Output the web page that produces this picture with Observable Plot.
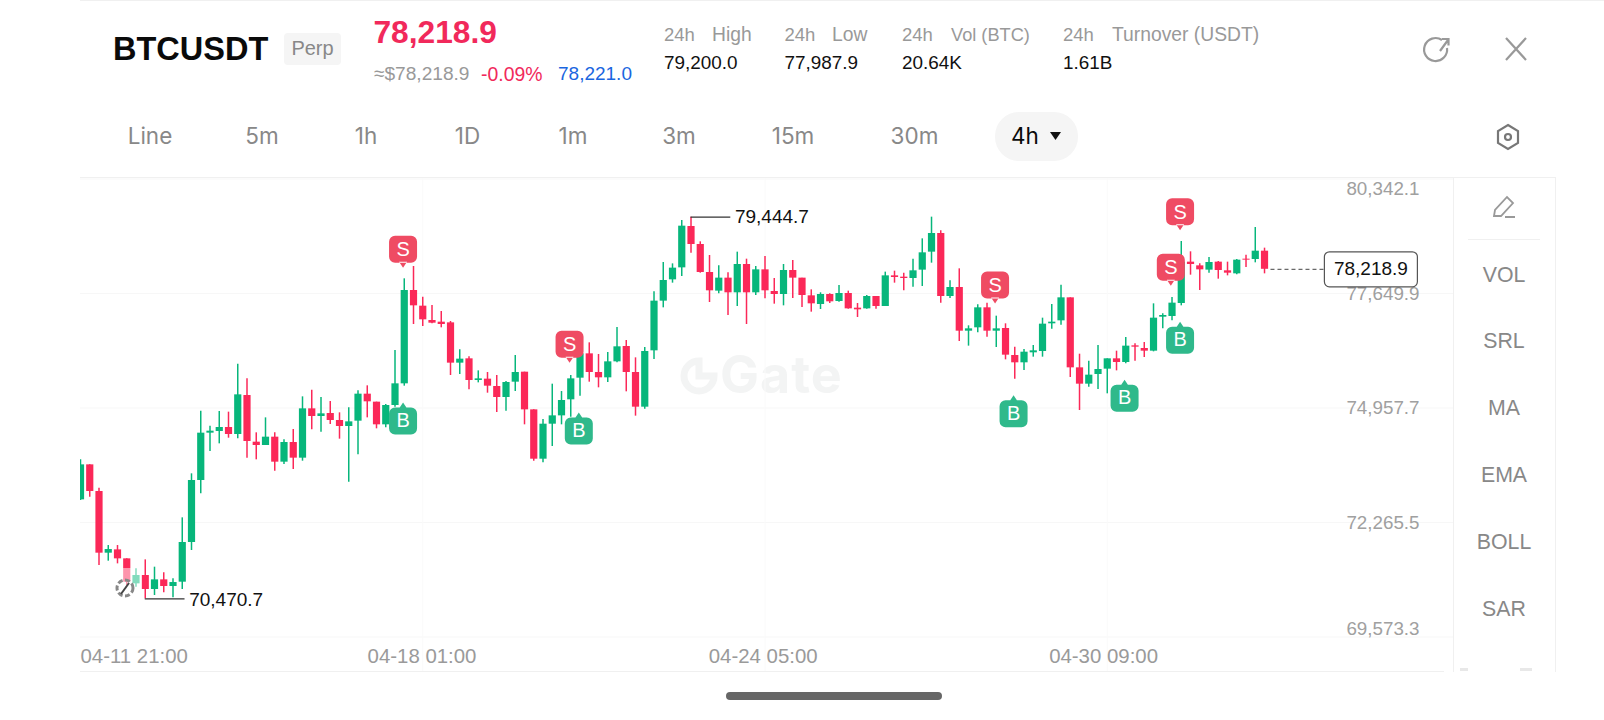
<!DOCTYPE html>
<html>
<head>
<meta charset="utf-8">
<script src="https://cdn.jsdelivr.net/npm/d3@7"></script>
<script src="https://cdn.jsdelivr.net/npm/@observablehq/plot@0.6"></script>
<style>
html,body{margin:0;padding:0;background:#fff;width:1604px;height:720px;overflow:hidden;font-family:"Liberation Sans",Arial,sans-serif}
#stage{position:relative;width:1604px;height:720px;overflow:hidden}
#stage>svg{position:absolute;left:0;top:0;background:transparent}
.t{position:absolute;line-height:0;white-space:pre}
.b{position:absolute}
</style>
</head>
<body>
<div id="stage"></div>
<script>
const opens=[72798,73621,72994,71544,71622,71411,70823,71019,70690,70917,70760,70862,71795,73253,74366,74405,74499,74334,75251,74154,74076,74272,73684,74146,73778,74938,74758,74828,74664,74523,74648,75283,75095,74562,75016,75526,77720,77352,77015,76976,76960,76012,76114,75604,75636,75463,75204,75565,75800,74914,73754,74577,74773,75150,75659,76231,75792,75667,76043,76404,75792,74977,76302,77470,77971,78253,79225,78802,78144,77705,78011,77666,78332,77666,78206,77697,77626,78191,78011,77595,77391,77626,77462,77650,77305,77289,77579,77344,78065,78034,78003,78199,78622,79061,77579,77791,76764,76843,77313,76764,76827,76192,76020,76255,76286,76937,77007,77548,75902,75518,75745,75871,76114,76027,76419,76357,76294,77093,77109,77415,78387,78300,78199,78387,78183,78112,78457,78449,78645];
const closes=[73621,72994,71544,71630,71411,70862,71019,70690,70917,70760,70854,71795,73253,74366,74413,74499,74334,75267,74170,74076,74272,73684,74146,73778,74938,74758,74820,74664,74523,74632,75283,75103,74562,75016,75526,77720,77360,77031,76952,76921,76012,76106,75604,75643,75471,75204,75557,75792,74914,73754,74577,74773,75134,75643,76231,75792,75667,76043,76396,75792,74977,76286,77470,77956,78246,79233,78802,78144,77713,78011,77666,78332,77666,78206,77713,77626,78191,78011,77603,77407,77626,77454,77650,77289,77266,77579,77344,78065,78026,78003,78183,78606,79061,77579,77791,76764,76819,77313,76764,76819,76200,76020,76270,76302,76929,76976,77548,75902,75518,75730,75863,76114,76027,76412,76388,76294,77070,77133,77423,78387,78332,78206,78379,78191,78128,78434,78434,78645,78218.9];
const highs=[73739,73621,73072,71724,71724,71411,71176,71387,71215,71082,70941,72375,73410,74883,74530,74875,74860,75988,75643,74374,74726,74374,74209,74452,75220,75377,75204,75110,74844,74961,75361,75479,75095,75040,76310,77995,78285,77564,77368,77227,76992,76325,76161,75831,75792,75722,75581,76192,75800,74914,74687,75518,75345,75722,76349,76490,76216,76263,76850,76545,76137,76380,77689,78379,78347,79366,79444.7,78865,78543,78300,78136,78622,78457,78285,78520,78003,78332,78426,78011,77736,77666,77642,77838,77705,77415,77603,77579,78152,78175,78128,78457,78935,79445,79123,77948,78230,76890,77383,77423,77117,76937,76388,76333,76427,77070,77391,77846,77548,76223,76059,76427,76114,76294,76615,76466,76498,77407,77172,77556,78873,78630,78347,78496,78402,78387,78449,78551,79202,78716];
const lows=[72783,72861,71254,71356,71293,70784,70745,70470.7,70549,70611,70494,70690,71607,72939,73935,74115,74248,74232,73778,73739,74076,73472,73629,73511,73707,74444,74389,74570,74225,73214,73856,74726,74468,74491,74977,75471,76921,76874,76937,76843,75722,75745,75385,75549,75306,74852,74883,75345,74562,73707,73668,74052,74562,74742,75236,75565,75432,75557,76020,75338,74766,74930,76098,77313,77893,78050,78598,78128,77438,77642,77133,77344,76921,77603,77525,77399,77360,77532,77321,77211,77274,77415,77446,77281,77086,77281,77281,77344,77893,77713,77799,77815,78363,77423,77532,76521,76412,76725,76623,76380,76090,75636,75839,76153,76153,76811,76905,75675,74899,75447,75393,75291,75831,75996,76059,76145,76278,76819,77007,77360,78081,77720,78128,77987,78065,78089,78261,78371,78112];

const priceTicks=[80342.1,77649.9,74957.7,72265.5,69573.3];
const timeTickIndex=[0,37,74,111];
const timeLabelIndex=[0,36.92,73.8,110.6];
const timeTickLabels=["04-11 21:00","04-18 01:00","04-24 05:00","04-30 09:00"];
const sellIndex=[35,53,99,119,118];
const sellPrice=[78680,76443,77838,79562,78253];
const buyIndex=[35,54,101,113,119];
const buyPrice=[74664,74428,74836,75197,76560];
const highestPrice=79444.7, highestIndex=66, lowestPrice=70470.7, lowestIndex=7, lastPrice=78218.9, lastIndex=128;

const GREEN="#07b67b", RED="#fb2858", FONT="'Liberation Sans',Arial,sans-serif";
const candles=opens.map((o,i)=>({i,open:o,close:closes[i],high:highs[i],low:lows[i],dir:closes[i]>=o?"up":"down"}));
const fmt=d3.format(",.1f");

function rr(c,x,y,w,h,r){c.moveTo(x+r,y);c.lineTo(x+w-r,y);c.arcTo(x+w,y,x+w,y+r,r);c.lineTo(x+w,y+h-r);c.arcTo(x+w,y+h,x+w-r,y+h,r);c.lineTo(x+r,y+h);c.arcTo(x,y+h,x,y+h-r,r);c.lineTo(x,y+r);c.arcTo(x,y,x+r,y,r);c.closePath();}
const sellSym={draw(c){rr(c,-14,-14,28,27,6);c.moveTo(-4,12);c.lineTo(0,18);c.lineTo(4,12);c.closePath();}};
const buySym={draw(c){rr(c,-14,-13,28,27,6);c.moveTo(-4,-12);c.lineTo(0,-18);c.lineTo(4,-12);c.closePath();}};
const lastSym={draw(c){rr(c,-46.5,-17.5,93,35,5);}};
const sells=sellIndex.map((i,k)=>({i,p:sellPrice[k]}));
const buys=buyIndex.map((i,k)=>({i,p:buyPrice[k]}));
const ticks=timeLabelIndex.map((i,k)=>({i,label:timeTickLabels[k]}));

const chart=Plot.plot({
  width:1604,height:720,
  marginLeft:80,marginRight:151,marginTop:178,marginBottom:49,
  style:{background:"transparent",fontFamily:FONT},
  x:{domain:[0,148.43],axis:null},
  y:{domain:[69573.3,80342.1],range:[636.5,178.5],axis:null},
  color:{domain:["up","down"],range:[GREEN,RED]},
  marks:[
    Plot.ruleY(priceTicks,{stroke:"#f7f7f7",strokeWidth:1,x1:0,x2:148.43}),
    Plot.ruleX(timeTickIndex.slice(1),{stroke:"#fafafa",strokeWidth:1}),
    Plot.ruleX(candles,{x:"i",y1:"low",y2:"high",stroke:"dir",strokeWidth:1.5,clip:"frame"}),
    Plot.ruleX(candles,{x:"i",y1:"open",y2:"close",stroke:"dir",strokeWidth:7.2,clip:"frame"}),
    Plot.text(ticks.slice(0,1),{x:"i",text:"label",frameAnchor:"bottom",dy:-9,fontSize:20.4,fill:"#9a9a9a",textAnchor:"start"}),
    Plot.text(ticks.slice(1),{x:"i",text:"label",frameAnchor:"bottom",dy:-9,fontSize:20.4,fill:"#9a9a9a"}),
    Plot.text(priceTicks.slice(1,4),{y:d=>d,text:fmt,frameAnchor:"right",dx:-34,fontSize:18.8,fill:"#a0a0a0",textAnchor:"end"}),
    Plot.text(priceTicks.slice(0,1),{y:d=>d,text:fmt,frameAnchor:"right",dx:-34,dy:10,fontSize:18.8,fill:"#a0a0a0",textAnchor:"end"}),
    Plot.text(priceTicks.slice(4),{y:d=>d,text:fmt,frameAnchor:"right",dx:-34,dy:-8,fontSize:18.8,fill:"#a0a0a0",textAnchor:"end"}),
    Plot.ruleY([highestPrice],{x1:highestIndex,x2:highestIndex+4.3,stroke:"#333",strokeWidth:1.2}),
    Plot.text([highestPrice],{x:highestIndex+4.75,y:d=>d,text:fmt,textAnchor:"start",fontSize:19,fill:"#111"}),
    Plot.ruleY([lowestPrice],{x1:lowestIndex,x2:lowestIndex+4.3,stroke:"#333",strokeWidth:1.2}),
    Plot.text([lowestPrice],{x:lowestIndex+4.75,y:d=>d,dy:1,text:fmt,textAnchor:"start",fontSize:19,fill:"#111"}),
    Plot.ruleY([lastPrice],{x1:lastIndex+0.7,x2:135,stroke:"#444",strokeWidth:1,strokeDasharray:"4,3"}),
    Plot.dot([lastPrice],{x:139.5,y:d=>d,symbol:lastSym,r:5,fill:"#fff",stroke:"#555",strokeWidth:1.2}),
    Plot.text([lastPrice],{x:139.5,y:d=>d,text:fmt,fontSize:19,fill:"#111"}),
    Plot.dot(buys,{x:"i",y:"p",dx:-1.2,symbol:buySym,r:5,fill:"#2fb98b",stroke:"none"}),
    Plot.text(buys,{x:"i",y:"p",dx:-1.2,text:()=>"B",fontSize:20,fill:"#fff"}),
    Plot.dot(sells,{x:"i",y:"p",dx:-1.2,symbol:sellSym,r:5,fill:"#ef4b63",stroke:"none"}),
    Plot.text(sells,{x:"i",y:"p",dx:-1.2,text:()=>"S",fontSize:20,fill:"#fff"})
  ]
});

const stage=document.getElementById("stage");
function box(x,y,w,h,bg,extra){const d=document.createElement("div");d.className="b";d.style.cssText+=`left:${x}px;top:${y}px;width:${w}px;height:${h}px;background:${bg};${extra||""}`;stage.appendChild(d);return d;}
function t(s,x,base,size,color,weight,anchor,family){const d=document.createElement("div");d.className="t";d.textContent=s;
  const tx=anchor==="middle"?"translateX(-50%)":"";
  const shift=family==="Inter"?0.3636:0.3465;
  d.style.cssText+=`left:${x}px;top:${base-shift*size}px;font-size:${size}px;color:${color};font-weight:${weight||400};transform:${tx};${family?`font-family:${family};`:""}`;stage.appendChild(d);return d;}

// frame lines and watermark under the chart
box(80,0,1524,1,"#f0f0f0");
box(80,177,1476,1,"#f0f0f0");
box(80,671,1364,1,"#f0f0f0");
box(1453,178,1,494,"#f0f0f0");
box(1555,178,1,494,"#f0f0f0");
box(1468,239,72,1,"#f0f0f0");
box(1460,668,8,3,"#e8e8e8");
box(1520,668,12,3,"#e8e8e8");
const wm=document.createElement("div");wm.className="b";wm.style.cssText+="left:678px;top:334px;width:200px;height:86px;";
wm.innerHTML='<svg width="200" height="86" style="position:absolute;left:0;top:0"><path d="M21 27a15 15 0 1 0 15 15H21z" fill="none" stroke="#f3f4f4" stroke-width="7"/><text x="42" y="59" font-family="Inter" font-weight="700" font-size="52" letter-spacing="1" fill="#f3f4f4">Gate</text></svg>';
stage.appendChild(wm);
stage.appendChild(chart);

// loader overlay
const ov=box(105,568,37,37,"rgba(255,255,255,.5)");
ov.innerHTML='<svg width="37" height="37" style="position:absolute;left:0;top:0"><circle cx="20" cy="20" r="8" fill="none" stroke="#888" stroke-width="3" stroke-dasharray="5,2.5"/><path d="M16 26L24 15" stroke="#444" stroke-width="2"/></svg>';

// header
t("BTCUSDT",113,60.5,32.5,"#0a0a0a",700);
box(284,33,57,32,"#f5f5f5","border-radius:4px");
t("Perp",312.5,55,20,"#888",400,"middle");
t("78,218.9",373.5,42.7,31.7,"#f1295b",700);
t("≈$78,218.9",374,81,19.1,"#999");
t("-0.09%",481,81,19.4,"#f1295b");
t("78,221.0",558,81,19,"#1a66e0");
const statLabel=["High","Low","Vol (BTC)","Turnover (USDT)"], statVal=["79,200.0","77,987.9","20.64K","1.61B"], statX=[664,784.5,902,1063], statWordX=[712,832,951,1112];
const statSize=[19.3,19.3,18.2,19.3];
statVal.forEach((v,k)=>{t("24h",statX[k],41.3,18.5,"#999");t(statLabel[k],statWordX[k],41.3,statSize[k],"#999");t(v,statX[k],69.5,18.9,"#111");});

// tabs
box(995,112,83,49,"#f5f5f5","border-radius:24px");
const tabs=["Line","5m","1h","1D","1m","3m","15m","30m"], tabX=[150,262,366,467.5,573,679,793,914.5];
tabs.forEach((s,k)=>t(s,tabX[k],144.5,22.5,"#888",400,"middle","Inter"));
t("4h",1025,144.5,22.5,"#0a0a0a",400,"middle","Inter");

// icons
const ic=document.createElement("div");ic.className="b";ic.style.cssText+="left:0;top:0;width:1604px;height:720px;pointer-events:none";
ic.innerHTML=`<svg width="1604" height="720" style="position:absolute;left:0;top:0" fill="none" stroke="#999" stroke-width="2.2">
<path d="M1050 132l11 0l-5.5 8z" fill="#111" stroke="none"/>
<path d="M1442 40a11.5 11.5 0 1 0 5 8"/><path d="M1440 51l8-11M1442 39h6.5v6.5"/>
<path d="M1506 38l20 22M1526 38l-20 22"/>
<path d="M1508 125l10 6v12l-10 6l-10-6v-12z" stroke="#777"/><circle cx="1508" cy="137" r="3" stroke="#777"/>
<path d="M1494 216l1-6l12-13l6 6l-12 13zM1505 217h10" stroke="#999" stroke-width="1.8"/>
</svg>`;
stage.appendChild(ic);

// side menu
const side=["VOL","SRL","MA","EMA","BOLL","SAR"], sideY=[282,348,415.5,482.5,549,616];
side.forEach((s,k)=>t(s,1504,sideY[k],21.3,"#888",400,"middle"));

// home bar
box(726,692,216,8,"#666","border-radius:4px");
</script>
</body>
</html>
